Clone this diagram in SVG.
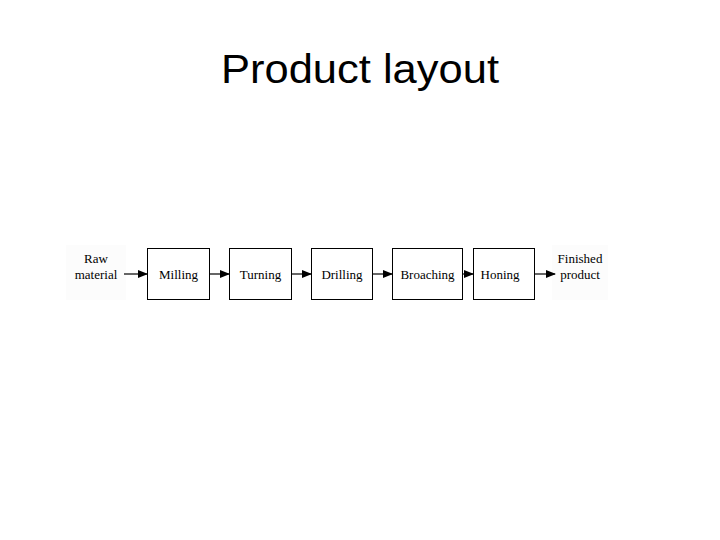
<svg xmlns="http://www.w3.org/2000/svg" width="720" height="540" viewBox="0 0 720 540">
<style>
.box{fill:#fff;stroke:#000;stroke-width:1}
.lbl{font-family:"Liberation Serif","Times New Roman",serif;font-size:13px;fill:#000}
.title{font-family:"Liberation Sans",Arial,sans-serif;font-size:40px;fill:#000}
.conn{stroke:#000;stroke-width:1.2;fill:none;marker-end:url(#ah)}
</style>
<defs>
<marker id="ah" markerWidth="10" markerHeight="8" refX="9" refY="4" orient="auto" markerUnits="userSpaceOnUse">
<path d="M0,0 L10,4 L0,8 Z" fill="#000"/>
</marker>
</defs>
<rect width="720" height="540" fill="#fff"/>
<text class="title" x="221" y="83" textLength="278" lengthAdjust="spacingAndGlyphs">Product layout</text>
<g id="raw">
<rect x="66" y="245" width="60" height="55" fill="#fcfcfc"/>
<text class="lbl" x="96" y="263" text-anchor="middle">Raw</text>
<text class="lbl" x="96" y="279" text-anchor="middle">material</text>
</g>
<g id="milling"><rect class="box" x="147.5" y="248.5" width="62" height="51"/><text class="lbl" x="178.5" y="279" text-anchor="middle">Milling</text></g>
<g id="turning"><rect class="box" x="229.5" y="248.5" width="62" height="51"/><text class="lbl" x="260.5" y="279" text-anchor="middle">Turning</text></g>
<g id="drilling"><rect class="box" x="311.5" y="248.5" width="61" height="51"/><text class="lbl" x="342" y="279" text-anchor="middle">Drilling</text></g>
<g id="broaching"><rect class="box" x="392.5" y="248.5" width="70" height="51"/><text class="lbl" x="427.5" y="279" text-anchor="middle">Broaching</text></g>
<g id="honing"><rect class="box" x="473.5" y="248.5" width="61" height="51"/><text class="lbl" x="500" y="279" text-anchor="middle">Honing</text></g>
<g id="finished">
<rect x="552" y="245" width="56" height="55" fill="#fcfcfc"/>
<text class="lbl" x="580" y="263" text-anchor="middle">Finished</text>
<text class="lbl" x="580" y="279" text-anchor="middle">product</text>
</g>
<g id="connectors">
<line class="conn" x1="124" y1="274" x2="147" y2="274"/>
<line class="conn" x1="210" y1="274" x2="229" y2="274"/>
<line class="conn" x1="292" y1="274" x2="311" y2="274"/>
<line class="conn" x1="373" y1="274" x2="392" y2="274"/>
<line class="conn" x1="463" y1="274" x2="473" y2="274"/>
<line class="conn" x1="535" y1="274" x2="555" y2="274"/>
</g>
</svg>
